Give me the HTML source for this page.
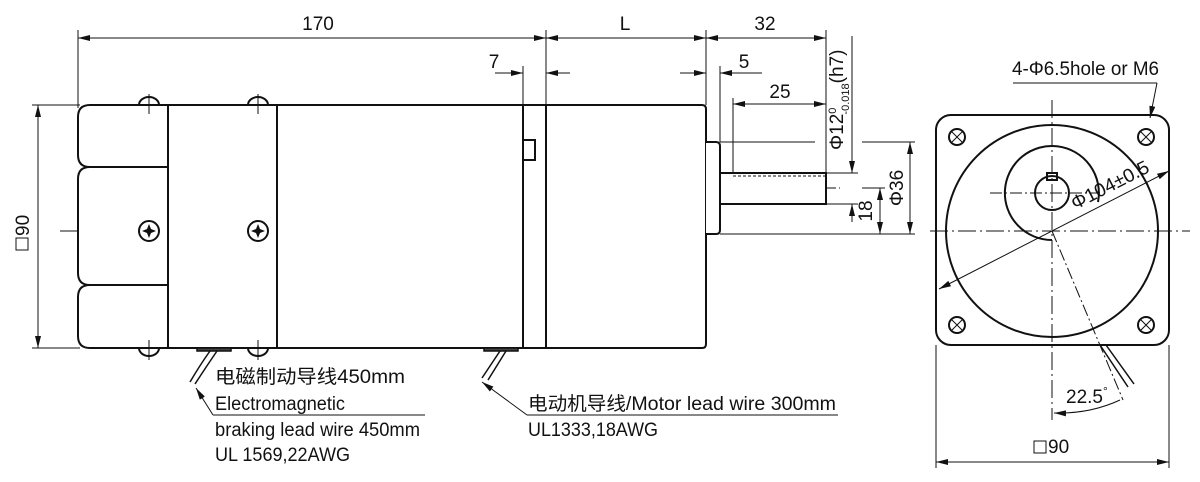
<!DOCTYPE html>
<html><head><meta charset="utf-8"><style>
html,body{margin:0;padding:0;background:#fff;}
svg{display:block;}
text{font-family:"Liberation Sans Narrow","Liberation Sans","Noto Sans CJK SC",sans-serif;fill:#111;}
</style></head><body>
<svg width="1200" height="482" viewBox="0 0 1200 482" xmlns="http://www.w3.org/2000/svg">
<defs>
<marker id="a" viewBox="0 0 12 6" refX="12" refY="3" markerWidth="12" markerHeight="6" orient="auto" markerUnits="userSpaceOnUse"><path d="M0,0 L12,3 L0,6 z" fill="#111"/></marker>
<marker id="b" viewBox="0 0 12 6" refX="0" refY="3" markerWidth="12" markerHeight="6" orient="auto" markerUnits="userSpaceOnUse"><path d="M12,0 L0,3 L12,6 z" fill="#111"/></marker>
</defs>
<g stroke="#111" fill="none" stroke-width="1">
<line x1="78" y1="30" x2="78" y2="108"/>
<line x1="546" y1="30" x2="546" y2="105"/>
<line x1="706" y1="30" x2="706" y2="105"/>
<line x1="826" y1="30" x2="826" y2="173"/>
<line x1="523" y1="66" x2="523" y2="105"/>
<line x1="720" y1="66" x2="720" y2="142"/>
<line x1="733" y1="98" x2="733" y2="173"/>
<line x1="32" y1="105" x2="80" y2="105"/>
<line x1="32" y1="348" x2="80" y2="348"/>
<line x1="78" y1="38" x2="546" y2="38" marker-start="url(#b)" marker-end="url(#a)"/>
<line x1="546" y1="38" x2="706" y2="38" marker-start="url(#b)" marker-end="url(#a)"/>
<line x1="706" y1="38" x2="826" y2="38" marker-start="url(#b)" marker-end="url(#a)"/>
<line x1="495" y1="73" x2="523" y2="73" marker-end="url(#a)"/>
<line x1="570" y1="73" x2="546" y2="73" marker-end="url(#a)"/>
<line x1="680" y1="73" x2="706" y2="73" marker-end="url(#a)"/>
<line x1="762" y1="73" x2="720" y2="73" marker-end="url(#a)"/>
<line x1="733" y1="104" x2="826" y2="104" marker-start="url(#b)" marker-end="url(#a)"/>
<line x1="38" y1="105" x2="38" y2="348" marker-start="url(#b)" marker-end="url(#a)"/>
<line x1="852" y1="36" x2="852" y2="173" marker-end="url(#a)"/>
<line x1="852" y1="222" x2="852" y2="204" marker-end="url(#a)"/>
<line x1="880" y1="188" x2="880" y2="234" marker-start="url(#b)" marker-end="url(#a)"/>
<line x1="910" y1="142" x2="910" y2="234" marker-start="url(#b)" marker-end="url(#a)"/>
<line x1="720" y1="142" x2="815" y2="142"/>
<line x1="862" y1="142" x2="915" y2="142"/>
<line x1="720" y1="234" x2="915" y2="234"/>
<line x1="826" y1="173" x2="858" y2="173"/>
<line x1="826" y1="204" x2="858" y2="204"/>
<line x1="690" y1="188" x2="840" y2="188" stroke-dasharray="14,3,2,3"/>
<line x1="862" y1="188" x2="885" y2="188"/>
<line x1="60" y1="231" x2="706" y2="231" stroke-dasharray="18,4,2,4"/>
</g>
<g stroke="#111" fill="#fff" stroke-width="2">
<path d="M139,105 a10,8 0 0 1 20,0 z"/><path d="M248,105 a10,8 0 0 1 20,0 z"/>
<path d="M139,348 a10,8 0 0 0 20,0 z"/><path d="M248,348 a10,8 0 0 0 20,0 z"/>
<path d="M168,105 H90 Q78,105 78,117 V155 Q78,167 90,167 H168"/>
<path d="M168,167 H90 Q78,167 78,179 V273 Q78,285 90,285 H168"/>
<path d="M168,285 H90 Q78,285 78,297 V336 Q78,348 90,348 H168"/>
<rect x="168" y="105" width="109" height="243"/>
<rect x="277" y="105" width="246" height="243"/>
<rect x="523" y="105" width="23" height="243"/>
<path d="M546,105 H702 Q706,105 706,109 V344 Q706,348 702,348 H546 z"/>
<path d="M706,142 H716 Q720,142 720,146 V230 Q720,234 716,234 H706"/>
<rect x="720" y="173" width="106" height="31"/>
<rect x="523" y="140" width="12" height="20"/>
<circle cx="149" cy="231" r="10"/><circle cx="258" cy="231" r="10"/>
</g>
<g stroke="#111" stroke-width="1" fill="none">
<line x1="149" y1="94" x2="149" y2="114"/><line x1="258" y1="94" x2="258" y2="114"/>
<line x1="149" y1="340" x2="149" y2="360"/><line x1="258" y1="340" x2="258" y2="360"/>
<line x1="733" y1="176" x2="826" y2="176" stroke-dasharray="3,2"/>
</g>
<g fill="#111"><path d="M149,224 l2,5 5,2 -5,2 -2,5 -2,-5 -5,-2 5,-2z"/><path d="M258,224 l2,5 5,2 -5,2 -2,5 -2,-5 -5,-2 5,-2z"/></g>
<g stroke="#111" stroke-width="1.5" fill="none">
<rect x="197" y="348" width="34" height="3" fill="#444"/>
<path d="M210,351 Q200,365 190,382"/><path d="M217,351 Q206,367 195,384"/>
<rect x="484" y="348" width="34" height="3" fill="#444"/>
<path d="M500,351 L482,378"/><path d="M506,351 L488,380"/>
<path d="M1100,345 L1128,387"/><path d="M1106,345 L1134,384"/>
</g>
<g stroke="#111" stroke-width="1" fill="none">
<line x1="213" y1="415" x2="196" y2="388" marker-end="url(#a)"/>
<line x1="213" y1="415" x2="425" y2="415"/>
<line x1="527" y1="415" x2="482" y2="382" marker-end="url(#a)"/>
<line x1="527" y1="415" x2="838" y2="415"/>
</g>
<g stroke="#111" stroke-width="2" fill="none">
<rect x="936" y="115" width="233" height="230" rx="15"/>
<circle cx="1052" cy="231" r="106"/>
<path d="M1052,240 A47,47 0 1 1 1098,202"/>
<circle cx="1052" cy="193" r="17"/>
<rect x="1047" y="173" width="10" height="7"/>
<circle cx="957" cy="137" r="8"/><circle cx="1146" cy="137" r="8"/>
<circle cx="957" cy="325" r="8"/><circle cx="1146" cy="325" r="8"/>
</g>
<g stroke="#111" stroke-width="1" fill="none">
<path d="M951,131l12,12M963,131l-12,12M1140,131l12,12M1152,131l-12,12M951,319l12,12M963,319l-12,12M1140,319l12,12M1152,319l-12,12"/>
<line x1="930" y1="231" x2="1190" y2="231" stroke-dasharray="18,4,2,4"/>
<line x1="1052" y1="100" x2="1052" y2="420" stroke-dasharray="18,4,2,4"/>
<line x1="990" y1="193" x2="1100" y2="193" stroke-dasharray="12,3,2,3"/>
<line x1="1052" y1="231" x2="1123" y2="400" stroke-dasharray="12,3,2,3"/>
<line x1="939" y1="289" x2="1169" y2="171" marker-start="url(#b)" marker-end="url(#a)"/>
<line x1="1013" y1="83" x2="1157" y2="83"/>
<line x1="1157" y1="83" x2="1150" y2="118" marker-end="url(#a)"/>
<path d="M1054,413 Q1090,414 1120,400" marker-start="url(#b)"/>
<line x1="936" y1="345" x2="936" y2="468"/><line x1="1169" y1="345" x2="1169" y2="468"/>
<line x1="936" y1="462" x2="1169" y2="462" marker-start="url(#b)" marker-end="url(#a)"/>
<rect x="1034" y="441" width="12" height="12"/>
<rect x="16" y="238" width="12" height="12"/>
</g>
<g font-size="19">
<text x="318" y="30" text-anchor="middle">170</text>
<text x="625" y="30" text-anchor="middle">L</text>
<text x="765" y="30" text-anchor="middle">32</text>
<text x="494" y="68" text-anchor="middle">7</text>
<text x="744" y="68" text-anchor="middle">5</text>
<text x="780" y="98" text-anchor="middle">25</text>
<text transform="translate(843,150) rotate(-90)">Φ12<tspan font-size="11" dy="-7">0</tspan><tspan font-size="11" dx="-7" dy="13">-0.018</tspan><tspan dy="-6">(h7)</tspan></text>
<text transform="translate(872,211) rotate(-90)" text-anchor="middle">18</text>
<text transform="translate(903,188) rotate(-90)" text-anchor="middle">Φ36</text>
<text transform="translate(29,236) rotate(-90)" text-anchor="start">90</text>
<text x="1048" y="453">90</text>
<text x="1012" y="75" textLength="147" lengthAdjust="spacingAndGlyphs">4-Φ6.5hole or M6</text>
<text transform="translate(1075,210) rotate(-27)" textLength="85" lengthAdjust="spacingAndGlyphs">Φ104±0.5</text>
<text x="1066" y="403">22.5<tspan font-size="12" dy="-8">°</tspan></text>
<text x="215" y="383" textLength="190" lengthAdjust="spacingAndGlyphs">电磁制动导线450mm</text>
<text x="215" y="410" textLength="130" lengthAdjust="spacingAndGlyphs">Electromagnetic</text>
<text x="215" y="436" textLength="205" lengthAdjust="spacingAndGlyphs">braking lead wire 450mm</text>
<text x="215" y="461" textLength="135" lengthAdjust="spacingAndGlyphs">UL 1569,22AWG</text>
<text x="528" y="410" textLength="308" lengthAdjust="spacingAndGlyphs">电动机导线/Motor lead wire 300mm</text>
<text x="528" y="436" textLength="130" lengthAdjust="spacingAndGlyphs">UL1333,18AWG</text>
</g>
</svg>
</body></html>
